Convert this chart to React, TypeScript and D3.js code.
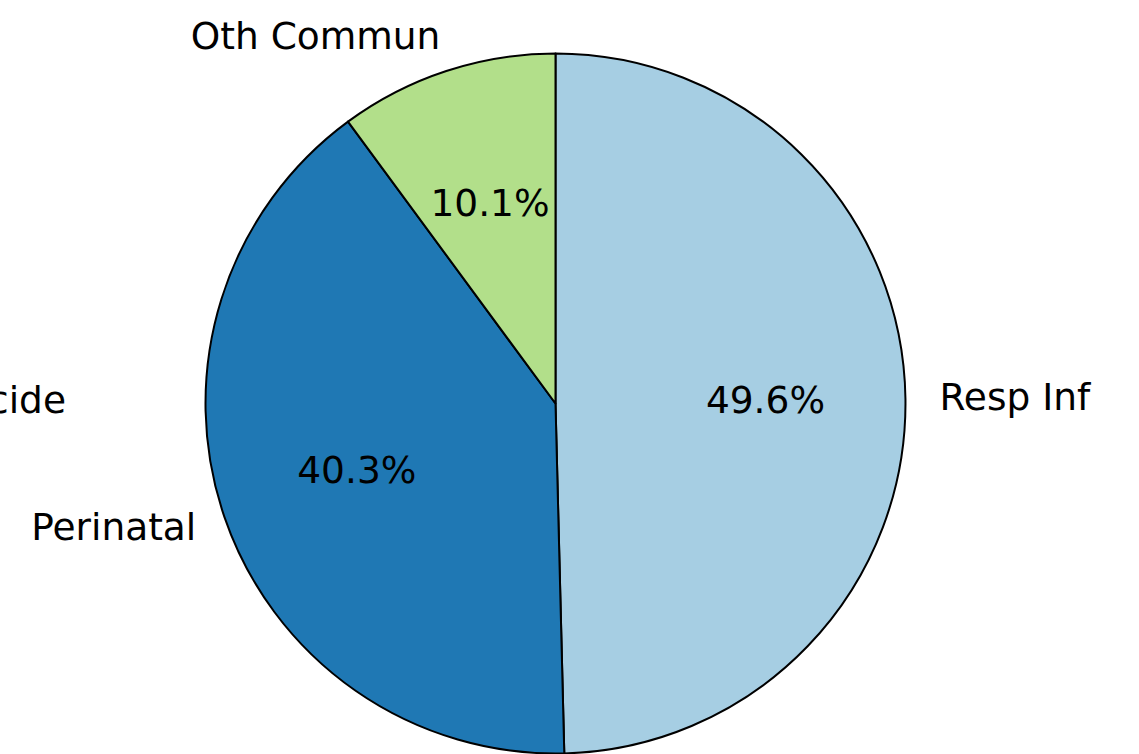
import React from "react";
import * as d3 from "d3";

const categories = ["Resp Inf", "Perinatal", "Oth Commun"];
const values = [49.6, 40.3, 10.1];
const colors = ["#a6cee3", "#1f78b4", "#b2df8a"];
const extraLabel = "Homicide";

const W = 1139;
const H = 754;
const cx = 555.5;
const cy = 403.5;
const R = 350;
const FONT = 37.5;

export default function App() {
  const pie = d3
    .pie<number>()
    .sort(null)
    .value((d) => d)
    .startAngle(0)
    .endAngle(2 * Math.PI);
  const arcs = pie(values);
  const arc = d3.arc<d3.PieArcDatum<number>>().innerRadius(0).outerRadius(R);
  const total = d3.sum(values);

  return (
    <svg
      width={W}
      height={H}
      style={{ position: "absolute", left: 0, top: 0, fontFamily: "DejaVu Sans" }}
    >
      <rect width={W} height={H} fill="#ffffff" />
      <g transform={`translate(${cx},${cy})`}>
        {arcs.map((a, i) => (
          <path
            key={categories[i]}
            d={arc(a) || ""}
            fill={colors[i]}
            stroke="#000"
            strokeWidth={2}
            strokeLinejoin="round"
          />
        ))}
        {arcs.map((a, i) => {
          const mid = (a.startAngle + a.endAngle) / 2;
          const x = Math.sin(mid) * R * 1.1;
          const y = -Math.cos(mid) * R * 1.1;
          return (
            <text
              key={"l" + i}
              x={x >= 0 ? x - 1 : x + 5}
              y={y}
              dy="0.31em"
              fontSize={FONT}
              textAnchor={x >= 0 ? "start" : "end"}
              fill="#000"
            >
              {categories[i]}
            </text>
          );
        })}
        {arcs.map((a, i) => {
          const mid = (a.startAngle + a.endAngle) / 2;
          const x = Math.sin(mid) * R * 0.6;
          const y = -Math.cos(mid) * R * 0.6;
          return (
            <text
              key={"p" + i}
              x={x}
              y={y}
              dy="0.31em"
              fontSize={FONT}
              textAnchor="middle"
              fill="#000"
            >
              {((values[i] / total) * 100).toFixed(1) + "%"}
            </text>
          );
        })}
      </g>
      <text x={66} y={413} fontSize={FONT} textAnchor="end" fill="#000">
        {extraLabel}
      </text>
    </svg>
  );
}
